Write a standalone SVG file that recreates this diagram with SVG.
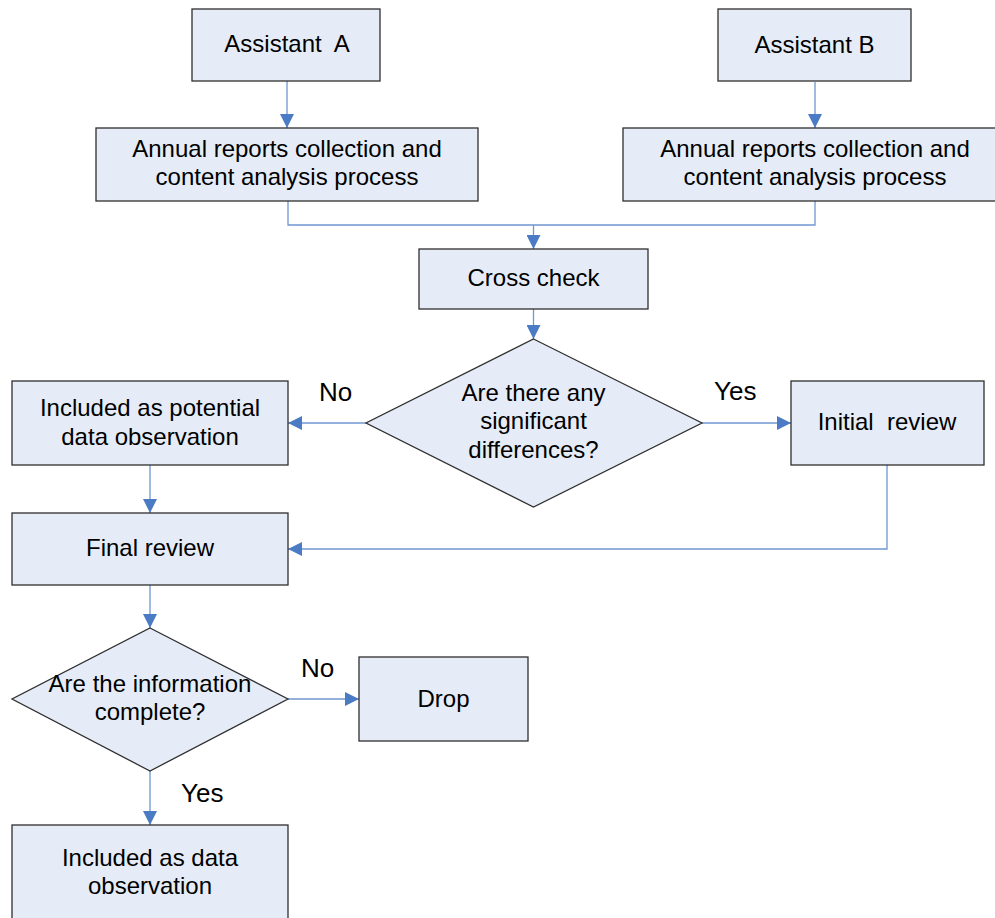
<svg xmlns="http://www.w3.org/2000/svg" width="995" height="918" viewBox="0 0 995 918">
<defs>
<style>
.box{fill:#E6ECF7;stroke:#2f2f2f;stroke-width:1.3}
.t{font-family:"Liberation Sans",Arial,sans-serif;font-size:24px;fill:#000;text-anchor:middle}
.lbl{font-family:"Liberation Sans",Arial,sans-serif;font-size:26px;fill:#000}
.c{fill:none;stroke:#6F97D0;stroke-width:1.3}
</style>
<marker id="ah" viewBox="0 0 14 14" refX="14" refY="7" markerWidth="14" markerHeight="14" markerUnits="userSpaceOnUse" orient="auto">
<path d="M0,0 L14,7 L0,14 Z" fill="#4A7BC4"/>
</marker>
</defs>
<rect width="995" height="918" fill="#ffffff"/>

<g id="connectors">
<path class="c" d="M287,81 V128" marker-end="url(#ah)"/>
<path class="c" d="M815,82 V128" marker-end="url(#ah)"/>
<path class="c" d="M288,201 V225 H815 V201"/>
<path class="c" d="M533.5,225 V249" marker-end="url(#ah)"/>
<path class="c" d="M533.5,309 V339" marker-end="url(#ah)"/>
<path class="c" d="M366,423 H288" marker-end="url(#ah)"/>
<path class="c" d="M702,423 H791" marker-end="url(#ah)"/>
<path class="c" d="M150,465 V513" marker-end="url(#ah)"/>
<path class="c" d="M887,465 V549 H288" marker-end="url(#ah)"/>
<path class="c" d="M150,585 V628" marker-end="url(#ah)"/>
<path class="c" d="M288,699 H359" marker-end="url(#ah)"/>
<path class="c" d="M150,771 V825" marker-end="url(#ah)"/>
</g>

<g id="assistantA">
<rect class="box" x="192" y="9" width="188" height="72"/>
<text class="t" x="287" y="52" xml:space="preserve">Assistant  A</text>
</g>
<g id="assistantB">
<rect class="box" x="718" y="9" width="193" height="72"/>
<text class="t" x="814.5" y="52.5">Assistant B</text>
</g>
<g id="annualA">
<rect class="box" x="96" y="128" width="382" height="73"/>
<text class="t" x="287" y="157">Annual reports collection and</text>
<text class="t" x="287" y="185">content analysis process</text>
</g>
<g id="annualB">
<rect class="box" x="623" y="128" width="384" height="73"/>
<text class="t" x="815" y="157">Annual reports collection and</text>
<text class="t" x="815" y="185">content analysis process</text>
</g>
<g id="crosscheck">
<rect class="box" x="419" y="249" width="229" height="60"/>
<text class="t" x="533.5" y="286">Cross check</text>
</g>
<g id="decision1">
<polygon class="box" points="533.5,339 702,423 533.5,507 366,423"/>
<text class="t" x="533.5" y="401">Are there any</text>
<text class="t" x="533.5" y="429">significant</text>
<text class="t" x="533.5" y="458">differences?</text>
</g>
<g id="potential">
<rect class="box" x="12" y="381" width="276" height="84"/>
<text class="t" x="150" y="416">Included as potential</text>
<text class="t" x="150" y="445">data observation</text>
</g>
<g id="initialreview">
<rect class="box" x="791" y="381" width="193" height="84"/>
<text class="t" x="887" y="429.5" xml:space="preserve">Initial  review</text>
</g>
<g id="finalreview">
<rect class="box" x="12" y="513" width="276" height="72"/>
<text class="t" x="150" y="556">Final review</text>
</g>
<g id="decision2">
<polygon class="box" points="150,628 288,699 150,771 12,699"/>
<text class="t" x="150" y="692">Are the information</text>
<text class="t" x="150" y="720">complete?</text>
</g>
<g id="drop">
<rect class="box" x="359" y="657" width="169" height="84"/>
<text class="t" x="443.5" y="707">Drop</text>
</g>
<g id="included">
<rect class="box" x="12" y="825" width="276" height="110"/>
<text class="t" x="150" y="866">Included as data</text>
<text class="t" x="150" y="894">observation</text>
</g>

<g id="labels">
<text class="lbl" x="319" y="401">No</text>
<text class="lbl" x="714" y="400">Yes</text>
<text class="lbl" x="301" y="677">No</text>
<text class="lbl" x="181" y="802">Yes</text>
</g>
</svg>
